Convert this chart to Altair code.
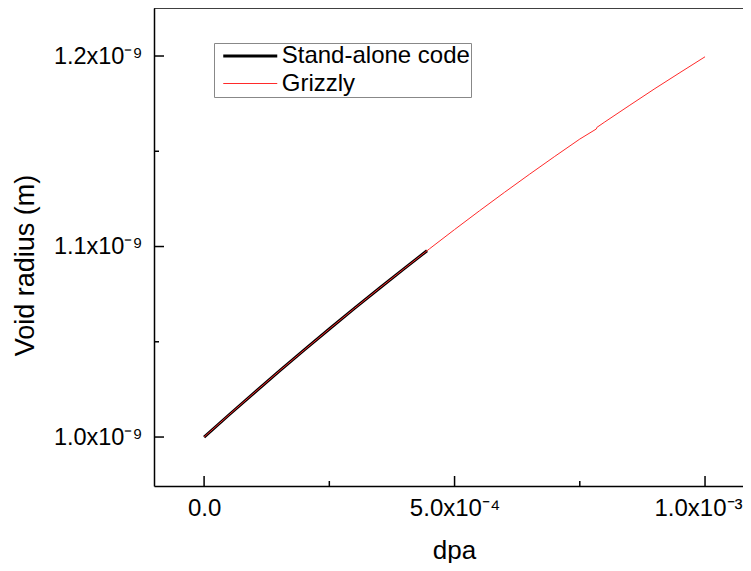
import altair as alt
import pandas as pd

# ---- data ----
dpa_standalone = [0.0, 0.5e-4, 1.0e-4, 1.5e-4, 2.0e-4, 2.5e-4, 3.0e-4, 3.5e-4, 4.0e-4, 4.45e-4]
r_standalone = [1.000e-9, 1.0117e-9, 1.0232e-9, 1.0346e-9, 1.0457e-9, 1.0567e-9,
                1.0675e-9, 1.0781e-9, 1.0885e-9, 1.0978e-9]

dpa_grizzly = [0.0, 0.5e-4, 1.0e-4, 1.5e-4, 2.0e-4, 2.5e-4, 3.0e-4, 3.5e-4, 4.0e-4, 4.5e-4,
               5.0e-4, 5.5e-4, 6.0e-4, 6.5e-4, 7.0e-4, 7.5e-4, 7.83e-4, 7.84e-4, 8.0e-4,
               8.5e-4, 9.0e-4, 9.5e-4, 1.0e-3]
r_grizzly = [1.000e-9, 1.0117e-9, 1.0232e-9, 1.0346e-9, 1.0457e-9, 1.0567e-9, 1.0675e-9,
             1.0781e-9, 1.0885e-9, 1.0988e-9, 1.1089e-9, 1.1188e-9, 1.1285e-9, 1.1380e-9,
             1.1473e-9, 1.1564e-9, 1.1617e-9, 1.1625e-9, 1.1654e-9, 1.1742e-9, 1.1829e-9,
             1.1913e-9, 1.1996e-9]

series_names = ["Stand-alone code", "Grizzly"]
series_colors = ["#000000", "#ff2a2a"]
series_widths = [3, 1]

x_tick_values = [0.0, 5.0e-4, 1.0e-3]
x_tick_labels = ["0.0", "5.0x10⁻⁴", "1.0x10⁻³"]
x_minor_ticks = [2.5e-4, 7.5e-4]
y_tick_values = [1.0e-9, 1.1e-9, 1.2e-9]
y_tick_labels = ["1.0x10⁻⁹", "1.1x10⁻⁹", "1.2x10⁻⁹"]
y_minor_ticks = [1.05e-9, 1.15e-9]

x_domain = [-1.0e-4, 1.0758e-3]
y_domain = [0.9743e-9, 1.2252e-9]

W, H = 589, 478
FONT = "Liberation Sans"


def label_expr(values, labels, tol):
    expr = "''"
    for v, l in reversed(list(zip(values, labels))):
        expr = f"abs(datum.value - ({v!r})) < {tol!r} ? '{l}' : ({expr})"
    return expr


df = pd.concat([
    pd.DataFrame({"dpa": dpa_standalone, "r": r_standalone, "series": series_names[0]}),
    pd.DataFrame({"dpa": dpa_grizzly, "r": r_grizzly, "series": series_names[1]}),
], ignore_index=True)

xscale = alt.Scale(domain=x_domain, nice=False, zero=False)
yscale = alt.Scale(domain=y_domain, nice=False, zero=False)

x_axis = alt.Axis(values=x_tick_values, labelExpr=label_expr(x_tick_values, x_tick_labels, 1e-6),
                  ticks=False, tickSize=0, labelPadding=10, labelBaseline="top", labelFontSize=24,
                  labelOffset={"condition": {"test": "datum.value > 0.0009", "value": -7}, "value": 0},
                  title="dpa", titleX=300, titleY=72, titleBaseline="alphabetic",
                  titleAlign="center", titleFontSize=26, grid=False)
y_axis = alt.Axis(values=y_tick_values, labelExpr=label_expr(y_tick_values, y_tick_labels, 1e-12),
                  ticks=False, tickSize=0, labelPadding=12, labelBaseline="middle", labelFontSize=23.5,
                  title="Void radius (m)", titleX=-121, titleY=257, titleAngle=-90,
                  titleAlign="center", titleBaseline="alphabetic", titleFontSize=27, grid=False)

legend = alt.Legend(orient="none", legendX=60, legendY=35, title=None,
                    symbolType="M-3,0H3", symbolSize=324, symbolOffset=23.25,
                    labelFontSize=24, labelFont=FONT, labelColor="black", labelLimit=0,
                    labelOffset=19.5, strokeColor="#888888", fillColor="white", padding=1,
                    rowPadding=3.5)

color = alt.Color("series:N", scale=alt.Scale(domain=series_names, range=series_colors),
                  legend=legend, title=None)
swidth = alt.StrokeWidth("series:N", scale=alt.Scale(domain=series_names, range=series_widths),
                         legend=legend, title=None)

X = alt.X("dpa:Q", scale=xscale, axis=x_axis)
Y = alt.Y("r:Q", scale=yscale, axis=y_axis)

base = alt.Chart(df)
line_black = base.transform_filter(alt.datum.series == series_names[0]).mark_line().encode(
    x=X, y=Y, color=color, strokeWidth=swidth,
)
line_red = base.transform_filter(alt.datum.series == series_names[1]).mark_line().encode(
    x=X, y=Y, color=color, strokeWidth=swidth,
)

tick_style = dict(color="black", strokeWidth=1.5)
y_major = alt.Chart(pd.DataFrame({"r": y_tick_values})).mark_rule(**tick_style).encode(
    y=Y, x=alt.value(0), x2=alt.value(10))
y_minor = alt.Chart(pd.DataFrame({"r": y_minor_ticks})).mark_rule(**tick_style).encode(
    y=Y, x=alt.value(0), x2=alt.value(5))
x_major = alt.Chart(pd.DataFrame({"dpa": x_tick_values})).mark_rule(**tick_style).encode(
    x=X, y=alt.value(H), y2=alt.value(H - 10))
x_minor = alt.Chart(pd.DataFrame({"dpa": x_minor_ticks})).mark_rule(**tick_style).encode(
    x=X, y=alt.value(H), y2=alt.value(H - 5))
top_border = alt.Chart(pd.DataFrame({"k": [0]})).mark_rule(**tick_style).encode(
    x=alt.value(0), x2=alt.value(W), y=alt.value(0))

chart = alt.layer(line_black, line_red, y_major, y_minor, x_major, x_minor, top_border).properties(
    width=W, height=H,
    autosize=alt.AutoSizeParams(type="none"),
    padding={"left": 146, "top": 0, "right": 0, "bottom": 77},
).configure_view(stroke=None).configure_axis(
    domainColor="black", domainWidth=1.5, labelFont=FONT, labelColor="black",
    titleFont=FONT, titleFontWeight="normal", titleColor="black",
)

chart.save("out.html", embed_options={"renderer": "svg", "actions": False})
